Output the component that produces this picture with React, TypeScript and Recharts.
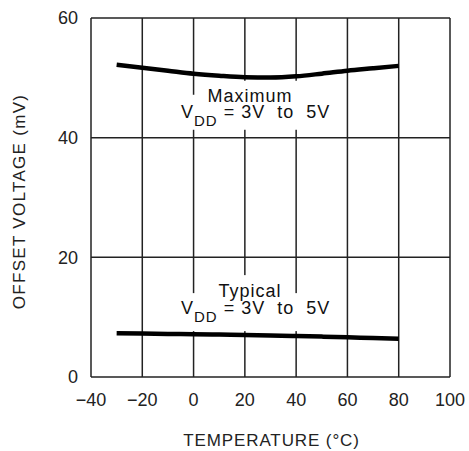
import React from "react";
import {
  LineChart,
  Line,
  XAxis,
  YAxis,
  CartesianGrid,
  ReferenceDot,
} from "recharts";

const temperatures = [-30, -20, -10, 0, 10, 20, 30, 40, 50, 60, 70, 80];
const maximumOffset = [52.2, 51.7, 51.2, 50.7, 50.35, 50.1, 50.05, 50.25, 50.7, 51.2, 51.6, 52.0];
const typicalOffset = [7.3, 7.25, 7.2, 7.15, 7.1, 7.0, 6.95, 6.85, 6.75, 6.65, 6.5, 6.4];
const xTicks = [-40, -20, 0, 20, 40, 60, 80, 100];
const yTicks = [0, 20, 40, 60];
const xTitle = "TEMPERATURE (°C)";
const yTitle = "OFFSET VOLTAGE (mV)";
const maxLabel = "Maximum";
const typLabel = "Typical";

const data = temperatures.map((t, i) => ({
  t,
  max: maximumOffset[i],
  typ: typicalOffset[i],
}));

const FONT = "'Liberation Sans', Arial, sans-serif";

type Mask = { x1: number; x2: number; y1: number; y2: number };

const Annotation = (title: string, masks: Mask[]) => (props: any) => {
  const vb = props.viewBox || {};
  const cx = (vb.x ?? 0) + (vb.width ?? 0) / 2;
  const cy = (vb.y ?? 0) + (vb.height ?? 0) / 2;
  return (
    <g>
      {masks.map((m, i) => (
        <rect
          key={i}
          x={cx + m.x1}
          y={cy + m.y1}
          width={m.x2 - m.x1}
          height={m.y2 - m.y1}
          fill="#fff"
        />
      ))}
      <text
        x={cx}
        y={cy}
        fontSize={18}
        letterSpacing={1}
        fill="#111"
        style={{ fontFamily: FONT }}
      >
        <tspan x={cx} dy={0} textAnchor="middle">{title}</tspan>
        <tspan x={cx - 69} dy={16.5} textAnchor="start">V</tspan>
        <tspan fontSize={15} dy={8}>DD</tspan>
        <tspan dy={-8}>{"\u00a0=\u00a03V\u00a0\u00a0to\u00a0\u00a05V"}</tspan>
      </text>
    </g>
  );
};

const YTitle = (props: any) => {
  const vb = props.viewBox || {};
  const x = 19;
  const y = (vb.y ?? 0) + (vb.height ?? 0) / 2 + 4;
  return (
    <text
      x={x}
      y={y}
      transform={`rotate(-90, ${x}, ${y})`}
      textAnchor="middle"
      dominantBaseline="central"
      fontSize={17}
      letterSpacing={1.3}
      fill="#222"
      style={{ fontFamily: FONT }}
    >
      {yTitle}
    </text>
  );
};

const XTitle = (props: any) => {
  const vb = props.viewBox || {};
  const x = (vb.x ?? 0) + (vb.width ?? 0) / 2 + 1;
  return (
    <text
      x={x}
      y={446}
      textAnchor="middle"
      fontSize={17}
      letterSpacing={0.9}
      fill="#222"
      style={{ fontFamily: FONT }}
    >
      {xTitle}
    </text>
  );
};

const fmt = (v: number) => (v < 0 ? `\u2212${Math.abs(v)}` : `${v}`);

const maxMasks: Mask[] = [
  { x1: -50, x2: 50, y1: -21, y2: 0 },
  { x1: -70, x2: 72, y1: -7, y2: 28 },
];
const typMasks: Mask[] = [
  { x1: -40, x2: 40, y1: -22, y2: 3 },
  { x1: -70, x2: 72, y1: -4, y2: 34 },
];

export default function App() {
  return (
    <div style={{ position: "absolute", left: 0, top: 0, background: "#fff" }}>
      <LineChart
        width={469}
        height={451}
        data={data}
        margin={{ top: 18, right: 19, bottom: 0, left: 0 }}
      >
        <CartesianGrid
          stroke="#222"
          strokeWidth={1.5}
          strokeOpacity={1}
          horizontalValues={yTicks}
          verticalValues={xTicks}
        />
        <XAxis
          dataKey="t"
          type="number"
          domain={[-40, 100]}
          ticks={xTicks}
          tickFormatter={fmt}
          axisLine={false}
          tickLine={false}
          tickSize={6}
          tickMargin={10}
          tick={{ fill: "#222", fontSize: 18, fontFamily: FONT }}
          interval={0}
          height={74}
          label={<XTitle />}
        />
        <YAxis
          type="number"
          domain={[0, 60]}
          ticks={yTicks}
          axisLine={false}
          tickLine={false}
          tickSize={6}
          tickMargin={7}
          width={91}
          tick={{ fill: "#222", fontSize: 18, fontFamily: FONT }}
          interval={0}
          label={<YTitle />}
        />
        <ReferenceDot x={22} y={46} r={0} fill="none" stroke="none" label={Annotation(maxLabel, maxMasks)} />
        <ReferenceDot x={22} y={13.35} r={0} fill="none" stroke="none" label={Annotation(typLabel, typMasks)} />
        <Line
          type="monotone"
          dataKey="max"
          stroke="#000"
          strokeWidth={4.5}
          dot={false}
          isAnimationActive={false}
        />
        <Line
          type="monotone"
          dataKey="typ"
          stroke="#000"
          strokeWidth={4.5}
          dot={false}
          isAnimationActive={false}
        />
      </LineChart>
    </div>
  );
}
